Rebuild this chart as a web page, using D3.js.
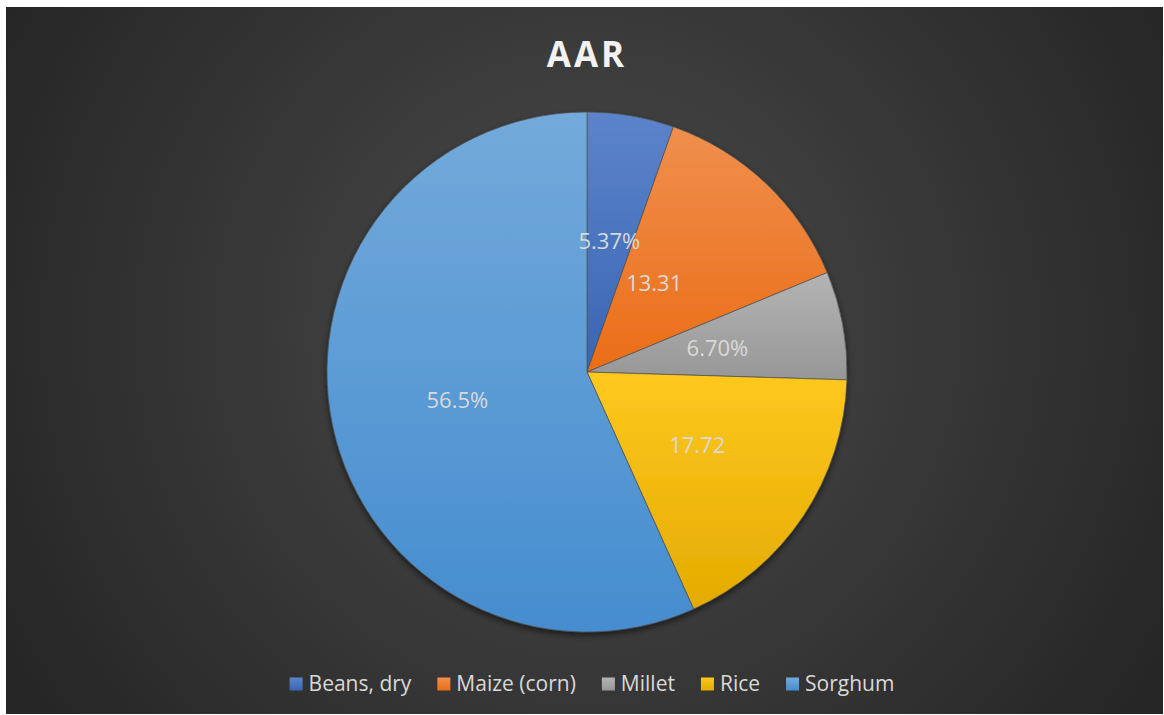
<!DOCTYPE html>
<html>
<head>
<meta charset="utf-8">
<script src="https://cdn.jsdelivr.net/npm/d3@7"></script>
<style>
  body { margin: 0; background: #fff; }
  svg { display: block; }
</style>
</head>
<body>
<svg id="chart"></svg>
<script>
var width = 1164;
var height = 715;

var categories = ["Beans, dry", "Maize (corn)", "Millet", "Rice", "Sorghum"];
var values = [5.37, 13.31, 6.70, 17.72, 56.5];
var labels = ["5.37%", "13.31", "6.70%", "17.72", "56.5%"];
var colors = ["#4472C4", "#ED7D31", "#A5A5A5", "#FFC000", "#5B9BD5"];

var cx = 587, cy = 372, radius = 260;

var svg = d3.select("#chart")
    .attr("width", width)
    .attr("height", height)
    .style("font-family", "'Open Sans', sans-serif");

var defs = svg.append("defs");

var bg = defs.append("radialGradient")
    .attr("id", "bg")
    .attr("gradientUnits", "userSpaceOnUse")
    .attr("cx", cx).attr("cy", 330).attr("r", 660);
bg.append("stop").attr("offset", "0").attr("stop-color", "#4b4b4b");
bg.append("stop").attr("offset", "1").attr("stop-color", "#262626");

var shadow = defs.append("filter")
    .attr("id", "shadow")
    .attr("x", "-10%").attr("y", "-10%")
    .attr("width", "120%").attr("height", "125%");
shadow.append("feDropShadow")
    .attr("dx", 0).attr("dy", 3)
    .attr("stdDeviation", 3)
    .attr("flood-color", "#000")
    .attr("flood-opacity", 0.55);

function shade(c, dl) {
    var h = d3.hsl(c);
    h.l = Math.max(0, Math.min(1, h.l + dl));
    return h.formatHex();
}

// each slice gets its own top-to-bottom shading, like the office style
colors.forEach(function (c, i) {
    var g = defs.append("linearGradient")
        .attr("id", "slice" + i)
        .attr("x1", 0).attr("y1", 0)
        .attr("x2", 0).attr("y2", 1);
    g.append("stop").attr("offset", "0").attr("stop-color", shade(c, 0.06));
    g.append("stop").attr("offset", "1").attr("stop-color", shade(c, -0.055));
});

svg.append("rect")
    .attr("x", 6).attr("y", 7)
    .attr("width", width - 7).attr("height", height - 8)
    .attr("fill", "url(#bg)");

svg.append("text")
    .attr("x", cx)
    .attr("y", 67)
    .attr("text-anchor", "middle")
    .style("font-size", "35px")
    .style("font-weight", "bold")
    .style("letter-spacing", "3px")
    .style("fill", "#f2f2f2")
    .text("AAR");

var pie = d3.pie().sort(null).value(function (d) { return d; });
var arcs = pie(values);
var arc = d3.arc().innerRadius(0).outerRadius(radius);
var labelArc = d3.arc().innerRadius(0).outerRadius(radius * 1.02);

var g = svg.append("g").attr("transform", "translate(" + cx + "," + cy + ")");

g.append("g")
    .attr("filter", "url(#shadow)")
    .selectAll("path")
    .data(arcs)
    .enter()
    .append("path")
    .attr("d", arc)
    .attr("fill", function (d, i) { return "url(#slice" + i + ")"; })
    .attr("stroke", "#505050")
    .attr("stroke-width", 0.7);

// excel nudged the maize label a bit toward the centre
var nudge = [[0, 0], [-24, 8], [0, 0], [0, 0], [0, 0]];

g.selectAll(".dataText")
    .data(arcs)
    .enter()
    .append("text")
    .attr("x", function (d, i) { return labelArc.centroid(d)[0] + nudge[i][0]; })
    .attr("y", function (d, i) { return labelArc.centroid(d)[1] + nudge[i][1]; })
    .attr("dy", "0.35em")
    .attr("text-anchor", "middle")
    .style("font-size", "22px")
    .style("fill", "#d9d9d9")
    .text(function (d, i) { return labels[i]; });

var legend = svg.append("g").attr("transform", "translate(0,684)");
var items = legend.selectAll("g")
    .data(categories)
    .enter()
    .append("g");
items.append("rect")
    .attr("y", -6.5)
    .attr("width", 13).attr("height", 13)
    .attr("fill", function (d, i) { return "url(#slice" + i + ")"; });
items.append("text")
    .attr("x", 19)
    .attr("dy", "0.35em")
    .style("font-size", "21px")
    .style("fill", "#d9d9d9")
    .text(function (d) { return d; });

var x = 0;
var pos = [];
items.each(function () {
    var w = 19 + d3.select(this).select("text").node().getComputedTextLength();
    pos.push(x);
    x += w + 26;
});
var total = x - 26;
var start = 592 - total / 2;
items.attr("transform", function (d, i) { return "translate(" + (start + pos[i]) + ",0)"; });
</script>
</body>
</html>
